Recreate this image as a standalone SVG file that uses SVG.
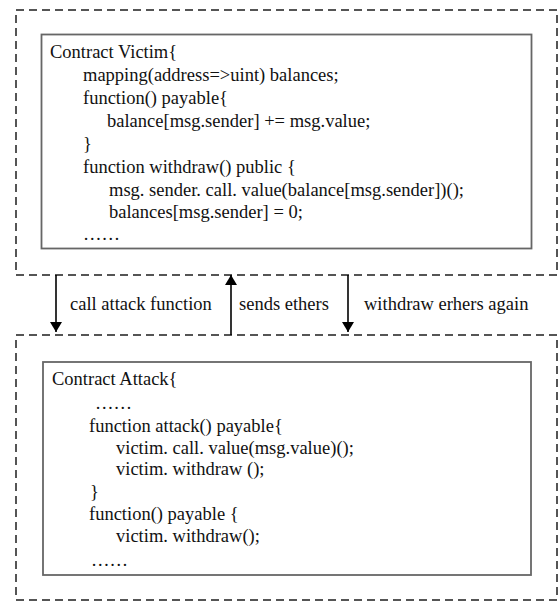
<svg xmlns="http://www.w3.org/2000/svg" width="559" height="602" viewBox="0 0 559 602">
  <defs>
    <marker id="ah" viewBox="0 0 10 12" refX="10" refY="6" markerWidth="10" markerHeight="12" markerUnits="userSpaceOnUse" orient="auto">
      <path d="M0,0 L10,6 L0,12 Z" fill="#000"/>
    </marker>
  </defs>
  <style>
    .outer { fill: none; stroke: #555; stroke-width: 2; stroke-dasharray: 8 5; }
    .inner { fill: #fff; stroke: #666; stroke-width: 1.8; }
    .code { font-family: "Liberation Serif", "Times New Roman", serif; font-size: 18.5px; fill: #111; }
    .conn { stroke: #000; stroke-width: 1.6; fill: none; marker-end: url(#ah); }
  </style>
  <rect width="559" height="602" fill="#fff"/>

  <g id="victim">
    <rect class="outer" x="16" y="10" width="541" height="265"/>
    <rect class="inner" x="41.5" y="34.5" width="490" height="214"/>
    <text class="code" x="50" y="58">Contract Victim{</text>
    <text class="code" x="83" y="81">mapping(address=&gt;uint) balances;</text>
    <text class="code" x="83" y="104">function() payable{</text>
    <text class="code" x="107" y="127">balance[msg.sender] += msg.value;</text>
    <text class="code" x="83" y="150">}</text>
    <text class="code" x="83" y="173">function withdraw() public {</text>
    <text class="code" x="109" y="196">msg. sender. call. value(balance[msg.sender])();</text>
    <text class="code" x="109" y="218">balances[msg.sender] = 0;</text>
    <text class="code" x="83" y="240">……</text>
  </g>

  <g id="attack">
    <rect class="outer" x="16" y="335" width="541" height="265"/>
    <rect class="inner" x="43" y="362" width="488" height="213"/>
    <text class="code" x="52" y="385">Contract Attack{</text>
    <text class="code" x="95" y="409">……</text>
    <text class="code" x="89" y="432">function attack() payable{</text>
    <text class="code" x="116" y="454">victim. call. value(msg.value)();</text>
    <text class="code" x="116" y="475">victim. withdraw ();</text>
    <text class="code" x="90" y="498">}</text>
    <text class="code" x="89" y="520">function() payable {</text>
    <text class="code" x="116" y="542">victim. withdraw();</text>
    <text class="code" x="91" y="566">……</text>
  </g>

  <g id="connectors">
    <line class="conn" x1="56" y1="275" x2="56" y2="332"/>
    <line class="conn" x1="231" y1="335" x2="231" y2="275"/>
    <line class="conn" x1="348" y1="275" x2="348" y2="332"/>
    <text class="code" x="70" y="310">call attack function</text>
    <text class="code" x="239" y="310">sends ethers</text>
    <text class="code" x="364" y="310">withdraw erhers again</text>
  </g>
</svg>
